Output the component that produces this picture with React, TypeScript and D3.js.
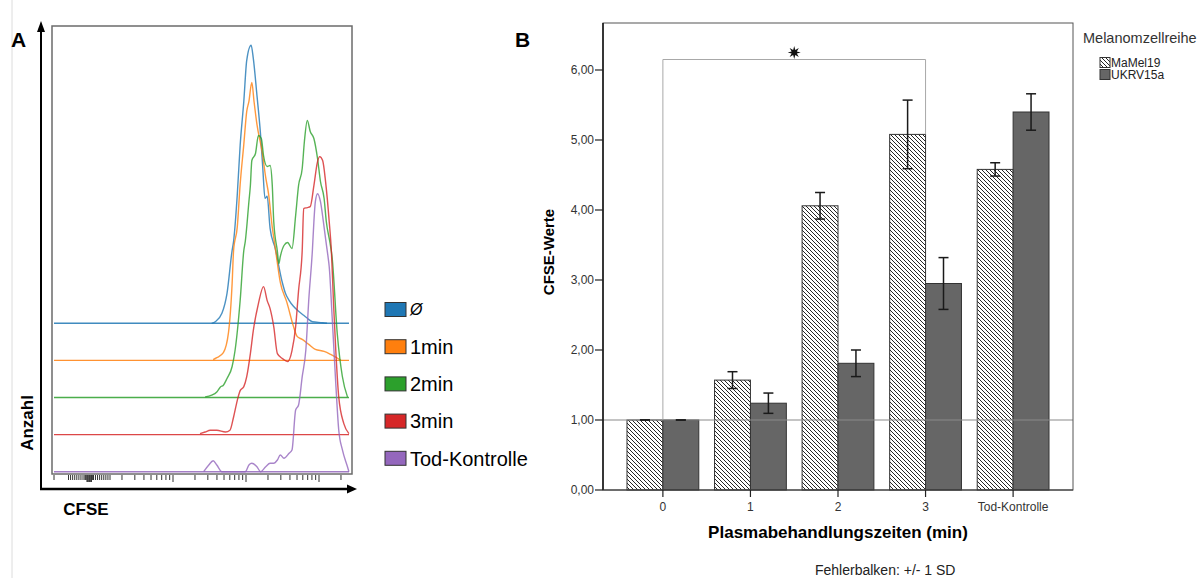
import React from "react";
import * as d3 from "d3";

// ---------- Panel A: CFSE histograms (x = log10 CFSE, y = relative count) ----------
const histLabels = ["Ø", "1min", "2min", "3min", "Tod-Kontrolle"];
const histColors = ["#1f77b4", "#ff7f0e", "#2ca02c", "#d62728", "#9467bd"];

const ctrlLog = [2.53, 2.58, 2.67, 2.74, 2.81, 2.83, 2.88, 2.92, 2.97, 3.01, 3.07, 3.1, 3.15, 3.2, 3.23, 3.26, 3.29, 3.33, 3.4, 3.5, 3.54, 3.59, 3.65, 3.72, 3.79, 3.84, 3.91, 4.05, 4.11];
const ctrlCount = [0, 1.6, 10, 30, 73, 82, 128, 178, 222, 263, 278, 265, 228, 188, 155, 125, 127, 95, 75, 40, 30, 23, 17, 12, 8, 5, 1.6, 0.6, 0];

const min1Log = [2.55, 2.6, 2.69, 2.76, 2.81, 2.83, 2.88, 2.92, 2.97, 3.01, 3.04, 3.08, 3.11, 3.15, 3.22, 3.27, 3.31, 3.36, 3.4, 3.47, 3.56, 3.65, 3.7, 3.77, 3.86, 3.95, 4.07, 4.16, 4.25, 4.3];
const min1Count = [0.7, 2.7, 7.7, 27.7, 77, 110, 133, 176, 216, 249, 259, 278, 259, 236, 209, 183, 166, 133, 113, 78, 58, 34, 24, 21, 16, 11, 9, 6, 2.4, 0];

const min2Log = [2.44, 2.53, 2.6, 2.65, 2.69, 2.74, 2.81, 2.85, 2.92, 2.97, 2.99, 3.04, 3.06, 3.08, 3.13, 3.17, 3.21, 3.24, 3.29, 3.33, 3.36, 3.38, 3.43, 3.45, 3.47, 3.52, 3.57, 3.63, 3.68, 3.72, 3.77, 3.8, 3.84, 3.88, 3.93, 3.98, 4.02, 4.07, 4.1, 4.15, 4.18, 4.25, 4.32, 4.39];
const min2Count = [0.6, 2.3, 5.6, 10.6, 12.3, 19, 31, 47, 97, 147, 156, 196, 212, 237, 244, 262, 259, 242, 231, 232, 212, 176, 146, 134, 141, 152, 155, 149, 182, 212, 229, 256, 277, 266, 259, 239, 216, 199, 176, 155, 140, 64, 21, 0.6];

const min3Log = [2.37, 2.44, 2.51, 2.6, 2.72, 2.78, 2.83, 2.88, 2.92, 2.97, 3.01, 3.06, 3.1, 3.17, 3.24, 3.29, 3.33, 3.38, 3.43, 3.5, 3.57, 3.63, 3.68, 3.72, 3.77, 3.79, 3.84, 3.88, 3.93, 3.98, 4.01, 4.05, 4.09, 4.14, 4.17, 4.2, 4.23, 4.27, 4.34, 4.41];
const min3Count = [1, 2.6, 4.3, 4.3, 2.6, 4.3, 17.6, 34, 44, 48, 58, 81, 104, 131, 148, 134, 126, 108, 81, 76, 73, 84, 108, 144, 184, 226, 227, 228, 249, 273, 278, 274, 253, 213, 183, 130, 84, 38, 11, 1];

const deadLog = [2.42, 2.49, 2.55, 2.6, 2.67, 2.99, 3.04, 3.08, 3.15, 3.2, 3.27, 3.33, 3.38, 3.43, 3.47, 3.52, 3.59, 3.63, 3.68, 3.72, 3.77, 3.82, 3.86, 3.91, 3.93, 3.95, 3.98, 4.02, 4.06, 4.09, 4.12, 4.14, 4.18, 4.23, 4.27, 4.32, 4.39, 4.41];
const deadCount = [0, 6.7, 11, 6.7, 0, 0, 6.7, 8.4, 5, 0, 5, 8.4, 8.4, 11.7, 16.7, 13.4, 18.4, 21.7, 61.7, 66.7, 95, 122, 172, 222, 250, 270, 278, 270, 250, 233, 217, 205, 155, 88, 42, 22, 5, 0];

const histLogs = [ctrlLog, min1Log, min2Log, min3Log, deadLog];
const histCounts = [ctrlCount, min1Count, min2Count, min3Count, deadCount];

// ---------- Panel B: CFSE values per treatment time ----------
const categories = ["0", "1", "2", "3", "Tod-Kontrolle"];
const cellLines = ["MaMel19", "UKRV15a"];
const mamel19Mean = [1.0, 1.57, 4.06, 5.08, 4.58];
const mamel19Sd = [0.0, 0.12, 0.19, 0.49, 0.095];
const ukrv15aMean = [1.0, 1.24, 1.81, 2.95, 5.4];
const ukrv15aSd = [0.0, 0.145, 0.19, 0.37, 0.26];
const sigPair = ["0", "3"];
const sigLevel = 6.15;

const FONT = "'Liberation Sans', Arial, sans-serif";

export default function App() {
  // panel A geometry
  const fA = { x0: 52, x1: 352, y0: 26, y1: 474 };
  const xCfse = d3.scaleLog().domain([100, 10000]).range([173, 319]);
  const yCount = d3.scaleLinear().domain([0, 300]).range([471.7, 171.7]);
  const offsetStep = 37.1;
  const linZone = d3.scaleLinear().domain([-10, 10]).range([68.5, 110]);

  const logTicks = xCfse.copy().domain([10, 25000]).ticks().filter((v) => v >= 20);
  const linTicks = [...d3.range(-10, 10.01, 1), ...d3.range(-2, 2.01, 0.5)];

  // panel B geometry
  const fB = { x0: 603, x1: 1073, y0: 23, y1: 490 };
  const yB = d3.scaleLinear().domain([0, 6]).range([490, 70]);
  const xB = d3
    .scaleBand<string>()
    .domain(categories)
    .range([fB.x0, fB.x1])
    .paddingInner(0.18)
    .paddingOuter(0.274);
  const xSub = d3.scaleBand<string>().domain(cellLines).range([0, xB.bandwidth()]);
  const fmt = (v: number) => d3.format(".2f")(v).replace(".", ",");

  const means = [mamel19Mean, ukrv15aMean];
  const sds = [mamel19Sd, ukrv15aSd];

  const center = (c: string) => (xB(c) as number) + xB.bandwidth() / 2;
  const iL = categories.indexOf(sigPair[0]);
  const iR = categories.indexOf(sigPair[1]);
  const bxL = center(sigPair[0]);
  const bxR = center(sigPair[1]);
  const byTop = yB(sigLevel);

  const starPath = d3
    .lineRadial<number>()
    .angle((i) => (i * Math.PI) / 8)
    .radius((i) => (i % 2 === 0 ? 6.5 : 2.8))
    .curve(d3.curveLinearClosed)(d3.range(16)) as string;

  return (
    <svg
      width={1202}
      height={578}
      style={{ position: "absolute", left: 0, top: 0, background: "#fff" }}
      fontFamily={FONT}
    >
      <defs>
        <pattern id="hatch" patternUnits="userSpaceOnUse" width={4} height={4}>
          <rect width={4} height={4} fill="#fff" />
          <path d="M-1,-1 L1,1 M0,0 L4,4 M3,3 L5,5" stroke="#262626" strokeWidth={1} />
        </pattern>
      </defs>

      <line x1={12} x2={12} y1={0} y2={578} stroke="#dcdcdc" strokeWidth={1} />

      {/* ===== Panel A ===== */}
      <text x={11} y={47} fontSize={21} fontWeight="bold">A</text>
      <rect x={fA.x0} y={fA.y0} width={fA.x1 - fA.x0} height={fA.y1 - fA.y0} fill="none" stroke="#6b6b6b" strokeWidth={1.5} />

      {histLabels.map((lab, i) => {
        const off = (histLabels.length - 1 - i) * offsetStep;
        const pts = histLogs[i].map((e, k) => [e, histCounts[i][k]] as [number, number]);
        const line = d3
          .line<[number, number]>()
          .x((d) => xCfse(10 ** d[0]))
          .y((d) => yCount(d[1] + off))
          .curve(d3.curveMonotoneX);
        return (
          <g key={lab}>
            <line x1={fA.x0 + 2} x2={fA.x1 - 3} y1={yCount(off)} y2={yCount(off)} stroke={histColors[i]} strokeWidth={1.4} opacity={0.85} />
            <path d={line(pts) as string} fill="none" stroke={histColors[i]} strokeWidth={1.4} opacity={0.8} />
          </g>
        );
      })}

      {/* CFSE ticks */}
      {logTicks.map((v) => {
        const decade = Math.abs(Math.log10(v) - Math.round(Math.log10(v))) < 1e-6;
        return <line key={"l" + v} x1={xCfse(v)} x2={xCfse(v)} y1={fA.y1 + 1} y2={fA.y1 + (decade ? 8 : 6)} stroke="#333" strokeWidth={1} />;
      })}
      {linTicks.map((v, k) => (
        <line key={"z" + k} x1={linZone(v)} x2={linZone(v)} y1={fA.y1 + 1} y2={fA.y1 + (Math.abs(v) <= 1 ? 8 : 6)} stroke="#333" strokeWidth={1} />
      ))}
      <line x1={54} x2={54} y1={fA.y1 + 1} y2={fA.y1 + 6} stroke="#333" />

      {/* arrows */}
      <line x1={41} x2={41} y1={490} y2={30} stroke="#000" strokeWidth={2} />
      <path d="M41,21 L37,32 L45,32 Z" fill="#000" />
      <line x1={40} x2={349} y1={489} y2={489} stroke="#000" strokeWidth={2.5} />
      <path d="M357,489 L347,484.5 L347,493.5 Z" fill="#000" />
      <text transform="translate(33,423) rotate(-90)" textAnchor="middle" fontSize={17} fontWeight="bold">Anzahl</text>
      <text x={86} y={515} textAnchor="middle" fontSize={17} fontWeight="bold">CFSE</text>

      {/* legend A */}
      {histLabels.map((lab, i) => {
        const cy = 309.5 + i * 37.2;
        return (
          <g key={"lg" + lab}>
            <rect x={385} y={cy - 7} width={21} height={14} fill={histColors[i]} stroke="#333" strokeWidth={1} />
            <text x={410} y={cy} dy="0.36em" fontSize={i === 0 ? 16 : 20} fontStyle={i === 0 ? "italic" : "normal"}>{lab}</text>
          </g>
        );
      })}

      {/* ===== Panel B ===== */}
      <text x={515} y={47} fontSize={21} fontWeight="bold">B</text>

      {/* bars */}
      {categories.map((c, ci) => (
        <g key={"c" + c}>
          {cellLines.map((s, si) => {
            const x = (xB(c) as number) + (xSub(s) as number);
            const v = means[si][ci];
            return (
              <rect key={s} x={x} y={yB(v)} width={xSub.bandwidth()} height={yB(0) - yB(v)} fill={si === 0 ? "url(#hatch)" : "#666666"} stroke="#333" strokeWidth={1} />
            );
          })}
        </g>
      ))}

      {/* reference line at 1 */}
      <line x1={fB.x0} x2={fB.x1} y1={yB(1)} y2={yB(1)} stroke="#8a8a8a" strokeWidth={1.2} />

      {/* error bars */}
      {categories.map((c, ci) =>
        cellLines.map((s, si) => {
          const cx = (xB(c) as number) + (xSub(s) as number) + xSub.bandwidth() / 2;
          const m = means[si][ci];
          const sd = sds[si][ci];
          return (
            <g key={"e" + c + s} stroke="#1a1a1a" strokeWidth={1.5}>
              <line x1={cx} x2={cx} y1={yB(m + sd)} y2={yB(m - sd)} />
              <line x1={cx - 5} x2={cx + 5} y1={yB(m + sd)} y2={yB(m + sd)} />
              <line x1={cx - 5} x2={cx + 5} y1={yB(m - sd)} y2={yB(m - sd)} />
            </g>
          );
        })
      )}

      {/* significance bracket */}
      <path
        d={`M${bxL},${yB(Math.max(mamel19Mean[iL], ukrv15aMean[iL]))} L${bxL},${byTop} L${bxR},${byTop} L${bxR},${yB(Math.max(mamel19Mean[iR], ukrv15aMean[iR]))}`}
        fill="none"
        stroke="#a8a8a8"
        strokeWidth={1}
      />
      <path d={starPath} transform={`translate(${(bxL + bxR) / 2},${byTop - 7})`} fill="#111" />

      {/* frame and axes */}
      <rect x={fB.x0} y={fB.y0} width={fB.x1 - fB.x0} height={fB.y1 - fB.y0} fill="none" stroke="#555" strokeWidth={1} />
      <line x1={fB.x0} x2={fB.x0} y1={fB.y0} y2={fB.y1} stroke="#111" strokeWidth={1.5} />
      <line x1={fB.x0} x2={fB.x1} y1={fB.y1} y2={fB.y1} stroke="#333" strokeWidth={1.2} />
      {yB.ticks(6).map((t) => (
        <g key={"yt" + t}>
          <line x1={fB.x0 - 8} x2={fB.x0} y1={yB(t)} y2={yB(t)} stroke="#222" strokeWidth={1.2} />
          <text x={fB.x0 - 9} y={yB(t)} dy="0.36em" textAnchor="end" fontSize={12} fill="#333">{fmt(t)}</text>
        </g>
      ))}
      {categories.map((c) => (
        <g key={"xt" + c}>
          <line x1={center(c)} x2={center(c)} y1={fB.y1} y2={fB.y1 + 7} stroke="#222" strokeWidth={1.2} />
          <text x={center(c)} y={fB.y1 + 17} dy="0.36em" textAnchor="middle" fontSize={12} fill="#333">{c}</text>
        </g>
      ))}
      <text transform="translate(554,252) rotate(-90)" textAnchor="middle" fontSize={15} fontWeight="bold">CFSE-Werte</text>
      <text x={838} y={538} textAnchor="middle" fontSize={17} fontWeight="bold">Plasmabehandlungszeiten (min)</text>
      <text x={815} y={575} fontSize={14} fill="#222">Fehlerbalken: +/- 1 SD</text>

      {/* legend B */}
      <text x={1083} y={43} fontSize={14.5} fill="#333">Melanomzellreihe</text>
      {cellLines.map((s, si) => {
        const cy = 62.5 + si * 12;
        return (
          <g key={"lb" + s}>
            <rect x={1100} y={cy - 5} width={10} height={10} fill={si === 0 ? "url(#hatch)" : "#666666"} stroke="#333" strokeWidth={1} />
            <text x={1111} y={cy} dy="0.36em" fontSize={12} fill="#222">{s}</text>
          </g>
        );
      })}
    </svg>
  );
}
